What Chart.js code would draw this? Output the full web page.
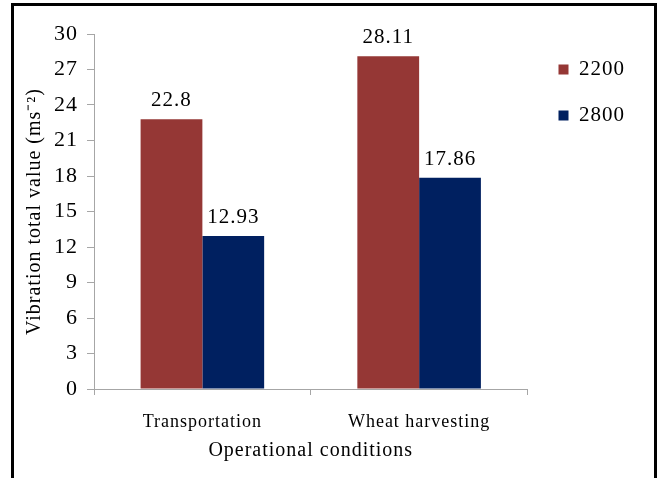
<!DOCTYPE html>
<html>
<head>
<meta charset="utf-8">
<script src="https://cdn.jsdelivr.net/npm/chart.js@4/dist/chart.umd.min.js"></script>
<style>
    html, body { margin: 0; padding: 0; background: #fff; }
    #wrap { position: relative; width: 657px; height: 478px; }
    #frame {
        position: absolute; left: 11px; top: 3px; width: 646px; height: 490px;
        box-sizing: border-box; border: 3px solid #000; border-bottom: none;
        pointer-events: none;
    }
</style>
</head>
<body>
<div id="wrap">
    <canvas id="vibration"></canvas>
    <div id="frame"></div>
</div>
<script>
const conditions = ["Transportation", "Wheat harvesting"];
const speed2200 = [22.8, 28.11];
const speed2800 = [12.93, 17.86];
const yTicks = [0, 3, 6, 9, 12, 15, 18, 21, 24, 27, 30];

const serif = "'Liberation Serif', 'Times New Roman', serif";

// set a little letter spacing on the context (canvas resets drop it)
const spacing = {
    id: "spacing",
    beforeLayout(chart) { chart.ctx.letterSpacing = "1px"; },
    beforeDraw(chart) { chart.ctx.letterSpacing = "1px"; },
};

// value labels above each bar
const barValues = {
    id: "barValues",
    afterDatasetsDraw(chart) {
        const ctx = chart.ctx;
        ctx.save();
        ctx.font = "21px " + serif;
        ctx.fillStyle = "#000";
        ctx.textAlign = "center";
        ctx.textBaseline = "alphabetic";
        chart.data.datasets.forEach((ds, i) => {
            chart.getDatasetMeta(i).data.forEach((bar, j) => {
                ctx.fillText(String(ds.data[j]), bar.x, bar.y - 13);
            });
        });
        ctx.restore();
    },
};

new Chart(document.getElementById("vibration"), {
    type: "bar",
    data: {
        labels: conditions,
        datasets: [
            {
                label: "2200",
                data: speed2200,
                backgroundColor: "#953735",
                categoryPercentage: 0.57,
                barPercentage: 1,
            },
            {
                label: "2800",
                data: speed2800,
                backgroundColor: "#002060",
                categoryPercentage: 0.57,
                barPercentage: 1,
            },
        ],
    },
    options: {
        responsive: true,
        maintainAspectRatio: false,
        animation: false,
        layout: {
            padding: { left: 20, top: 34, right: 22, bottom: 15 },
        },
        plugins: {
            legend: {
                position: "right",
                align: "start",
                labels: {
                    boxWidth: 10,
                    boxHeight: 10,
                    padding: 25,
                    color: "#000",
                    font: { family: serif, size: 21 },
                },
            },
            tooltip: { enabled: false },
        },
        scales: {
            x: {
                afterFit(scale) {
                    scale.height = 74;
                },
                grid: {
                    display: true,
                    drawOnChartArea: false,
                    offset: true,
                    tickLength: 6,
                    color: "#a6a6a6",
                },
                border: { color: "#a6a6a6" },
                ticks: {
                    color: "#000",
                    padding: 16,
                    font: { family: serif, size: 18 },
                },
                title: {
                    display: true,
                    text: "Operational conditions",
                    color: "#000",
                    padding: { top: 6, bottom: 0 },
                    font: { family: serif, size: 20 },
                },
            },
            y: {
                min: 0,
                max: 30,
                afterBuildTicks(scale) {
                    scale.ticks = yTicks.map((v) => ({ value: v }));
                },
                afterFit(scale) {
                    scale.width = 74;
                },
                grid: {
                    display: true,
                    drawOnChartArea: false,
                    tickLength: 7,
                    color: "#a6a6a6",
                },
                border: { color: "#a6a6a6" },
                ticks: {
                    color: "#000",
                    padding: 9,
                    font: { family: serif, size: 22 },
                },
                title: {
                    display: true,
                    text: "Vibration total value (ms\u207B\u00B2)",
                    color: "#000",
                    padding: { top: 3, bottom: 0 },
                    font: { family: serif, size: 20 },
                },
            },
            // empty right-hand axis: keeps a gap between the bars and the legend
            gap: {
                position: "right",
                display: true,
                grid: { display: false },
                border: { display: false },
                ticks: { display: false },
                afterFit(scale) {
                    scale.width = 6;
                },
            },
        },
    },
    plugins: [spacing, barValues],
});
</script>
</body>
</html>
